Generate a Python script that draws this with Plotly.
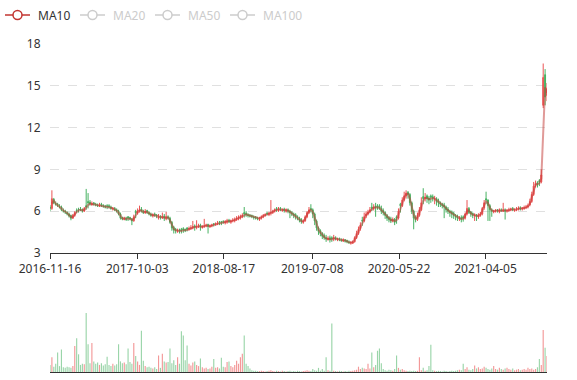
import pandas as pd
import plotly.graph_objects as go

# ---- data (one candle per week) ----
DAYS_PER_CANDLE = 5
dates = pd.date_range("2016-11-16", periods=262, freq="7D").strftime("%Y-%m-%d").tolist()

close = [
    6.2, 6.9, 6.6, 6.5, 6.4, 6.3, 6.1, 6.0, 5.95, 5.8,
    5.65, 5.5, 5.7, 5.9, 6.0, 6.1, 6.1, 6.0, 6.2, 6.3,
    6.6, 6.5, 6.55, 6.5, 6.45, 6.4, 6.45, 6.4, 6.35, 6.3,
    6.35, 6.3, 6.2, 6.2, 6.1, 6.0, 5.8, 5.5, 5.45, 5.5,
    5.4, 5.5, 5.45, 5.3, 5.6, 5.9, 6.0, 6.1, 6.0, 5.9,
    6.0, 5.9, 5.8, 5.7, 5.75, 5.7, 5.65, 5.6, 5.55, 5.6,
    5.5, 5.6, 5.5, 5.2, 4.8, 4.65, 4.6, 4.6, 4.55, 4.6,
    4.65, 4.6, 4.7, 4.75, 4.8, 4.9, 4.85, 4.9, 4.95, 4.85,
    4.9, 4.95, 5.0, 4.9, 4.95, 5.0, 5.05, 5.1, 5.15, 5.1,
    5.2, 5.2, 5.25, 5.3, 5.25, 5.3, 5.35, 5.4, 5.5, 5.55,
    5.6, 5.7, 5.8, 5.75, 5.7, 5.65, 5.6, 5.55, 5.5, 5.45,
    5.5, 5.6, 5.7, 5.75, 5.8, 5.85, 5.9, 6.0, 6.1, 6.1,
    6.15, 6.1, 6.1, 6.05, 6.1, 6.0, 5.9, 5.8, 5.7, 5.6,
    5.5, 5.35, 5.25, 5.3, 5.6, 5.9, 6.1, 6.1, 5.8, 5.3,
    4.8, 4.55, 4.4, 4.2, 4.1, 4.0, 4.05, 3.95, 4.0, 4.1,
    4.0, 4.0, 3.95, 3.9, 3.95, 3.85, 3.8, 3.75, 3.75, 3.8,
    4.1, 4.4, 4.7, 5.0, 5.3, 5.6, 5.8, 5.95, 6.1, 6.2,
    6.3, 6.25, 6.3, 6.2, 6.0, 5.9, 5.7, 5.5, 5.4, 5.3,
    5.4, 5.2, 5.5, 6.0, 6.4, 6.8, 7.1, 7.3, 7.2, 6.6,
    6.0, 5.5, 5.4, 5.7, 6.1, 6.6, 6.9, 7.0, 6.9, 6.8,
    7.0, 6.9, 6.9, 6.7, 6.6, 6.5, 6.4, 6.3, 6.1, 6.0,
    5.9, 5.8, 5.7, 5.6, 5.5, 5.5, 5.4, 5.5, 5.8, 6.2,
    5.9, 5.8, 5.7, 5.7, 5.6, 5.7, 5.8, 6.2, 6.6, 6.8,
    6.4, 6.1, 6.0, 6.0, 6.05, 6.0, 6.1, 6.05, 6.1, 6.0,
    6.05, 6.1, 6.15, 6.1, 6.1, 6.15, 6.2, 6.15, 6.2, 6.25,
    6.3, 6.4, 6.7, 7.2, 7.8, 8.0, 7.9, 8.1, 8.6, 15.6,
    14.2, 14.8,
]

open_ = [
    6.3, 6.2, 6.85, 6.55, 6.5, 6.35, 6.3, 6.05, 6.0, 5.9,
    5.8, 5.7, 5.5, 5.7, 6.05, 6.15, 6.15, 6.1, 6.0, 6.4,
    6.7, 6.65, 6.45, 6.6, 6.5, 6.45, 6.35, 6.5, 6.4, 6.35,
    6.4, 6.4, 6.3, 6.15, 6.2, 6.1, 6.0, 5.8, 5.55, 5.4,
    5.5, 5.6, 5.55, 5.45, 5.3, 6.0, 5.85, 6.0, 6.15, 6.0,
    5.9, 6.05, 5.9, 5.8, 5.65, 5.8, 5.7, 5.5, 5.65, 5.5,
    5.65, 5.45, 5.6, 5.5, 5.2, 4.85, 4.7, 4.55, 4.65, 4.7,
    4.75, 4.7, 4.8, 4.7, 4.75, 4.8, 4.95, 4.85, 4.9, 5.0,
    4.85, 4.9, 4.95, 5.05, 4.9, 4.95, 5.1, 5.05, 5.1, 5.2,
    5.25, 5.25, 5.15, 5.2, 5.35, 5.2, 5.3, 5.3, 5.4, 5.45,
    5.5, 5.6, 5.9, 5.85, 5.75, 5.7, 5.7, 5.6, 5.6, 5.5,
    5.4, 5.5, 5.6, 5.7, 5.85, 5.75, 5.85, 5.9, 6.0, 6.2,
    6.05, 6.2, 6.05, 6.15, 6.0, 6.1, 6.0, 5.9, 5.8, 5.75,
    5.6, 5.5, 5.4, 5.2, 5.3, 5.6, 5.9, 6.2, 6.1, 5.8,
    5.3, 4.8, 4.6, 4.4, 4.25, 4.1, 3.95, 4.1, 4.1, 4.0,
    4.1, 3.95, 4.05, 3.95, 3.85, 3.95, 3.9, 3.8, 3.7, 3.7,
    3.8, 4.1, 4.4, 4.75, 5.35, 5.3, 5.65, 5.8, 5.95, 6.3,
    6.2, 6.35, 6.4, 6.35, 6.2, 6.05, 5.9, 5.7, 5.55, 5.45,
    5.3, 5.45, 5.6, 5.5, 6.5, 6.4, 6.8, 7.1, 7.35, 7.2,
    6.6, 6.0, 5.55, 5.4, 5.7, 6.1, 7.05, 6.9, 7.1, 6.95,
    7.1, 7.05, 6.85, 6.9, 6.75, 6.6, 6.5, 6.45, 6.3, 6.15,
    6.0, 5.95, 5.85, 5.7, 5.65, 5.45, 5.55, 5.6, 5.5, 5.8,
    6.2, 5.95, 5.85, 5.65, 5.75, 5.6, 5.7, 5.8, 6.25, 6.9,
    6.8, 6.4, 6.1, 5.95, 6.0, 6.1, 5.95, 6.1, 6.0, 6.1,
    6.0, 6.05, 6.1, 6.2, 6.05, 6.1, 6.15, 6.25, 6.15, 6.2,
    6.25, 6.3, 6.45, 6.7, 7.2, 7.85, 8.05, 8.2, 8.1, 13.6,
    15.8, 14.3,
]

high = [
    6.45, 7.5, 6.95, 6.7, 6.6, 6.5, 6.4, 6.2, 6.1, 6.0,
    5.9, 5.75, 5.8, 6.0, 6.2, 6.25, 6.3, 6.2, 6.3, 7.6,
    7.3, 6.8, 6.7, 6.65, 6.6, 6.55, 6.6, 6.6, 6.5, 6.45,
    6.5, 6.5, 6.4, 6.3, 6.3, 6.2, 6.1, 5.9, 5.6, 5.6,
    5.6, 5.65, 5.6, 5.5, 5.75, 6.1, 6.2, 6.4, 6.3, 6.1,
    6.15, 6.1, 6.0, 5.9, 5.85, 5.9, 5.8, 5.8, 5.7, 5.9,
    5.8, 5.95, 5.7, 5.6, 5.3, 4.95, 4.8, 4.75, 4.75, 4.8,
    4.85, 4.75, 4.85, 4.9, 5.0, 5.3, 5.05, 5.35, 5.1, 5.1,
    5.0, 5.45, 5.1, 5.1, 5.05, 5.1, 5.15, 5.2, 5.3, 5.3,
    5.3, 5.35, 5.35, 5.45, 5.45, 5.4, 5.5, 5.55, 5.65, 5.7,
    5.75, 5.85, 6.3, 6.0, 5.85, 5.8, 5.75, 5.7, 5.65, 5.6,
    5.6, 5.7, 5.8, 5.85, 5.95, 5.95, 6.8, 6.1, 6.2, 6.3,
    6.3, 6.3, 6.2, 6.25, 6.2, 6.2, 6.1, 6.0, 5.9, 5.85,
    5.7, 5.6, 5.5, 5.4, 5.7, 6.0, 6.3, 6.5, 6.2, 5.9,
    5.4, 4.9, 4.7, 4.5, 4.4, 4.3, 4.2, 4.25, 4.2, 4.3,
    4.2, 4.1, 4.1, 4.05, 4.05, 4.0, 3.95, 3.9, 3.85, 3.9,
    4.2, 4.6, 4.9, 5.2, 5.6, 5.9, 6.0, 6.1, 6.3, 6.6,
    6.5, 6.6, 6.5, 6.5, 6.4, 6.2, 6.0, 5.8, 5.65, 5.6,
    5.55, 5.5, 5.7, 6.2, 6.6, 7.0, 7.4, 7.5, 7.45, 7.3,
    6.7, 6.1, 5.7, 5.9, 6.3, 7.0, 7.65, 7.3, 7.2, 7.1,
    7.2, 7.2, 7.1, 7.0, 6.9, 6.7, 6.6, 6.6, 6.4, 6.3,
    6.1, 6.05, 5.95, 5.8, 5.75, 5.65, 5.7, 5.7, 5.9, 6.8,
    6.3, 6.0, 5.9, 5.85, 5.8, 5.85, 5.95, 6.3, 6.8, 7.4,
    6.85, 6.5, 6.2, 6.1, 6.15, 6.15, 6.2, 6.2, 6.6, 6.2,
    6.15, 6.25, 6.25, 6.3, 6.2, 6.3, 6.35, 6.35, 6.3, 6.4,
    6.45, 6.55, 6.9, 7.4, 8.1, 8.2, 8.15, 8.3, 9.0, 16.6,
    16.2, 15.2,
]

low = [
    6.0, 6.1, 6.5, 6.4, 6.3, 6.2, 6.0, 5.9, 5.8, 5.7,
    5.55, 5.35, 5.45, 5.6, 5.85, 5.9, 6.0, 5.9, 5.95, 6.1,
    6.2, 6.4, 6.4, 6.4, 6.35, 6.3, 6.3, 6.3, 6.25, 6.2,
    6.15, 6.2, 6.1, 6.05, 6.0, 5.9, 5.7, 5.4, 5.35, 5.35,
    5.3, 5.3, 5.35, 5.0, 5.25, 5.5, 5.75, 5.9, 5.9, 5.8,
    5.8, 5.8, 5.7, 5.6, 5.55, 5.6, 5.5, 5.4, 5.4, 5.45,
    5.3, 5.35, 5.4, 5.1, 4.6, 4.4, 4.4, 4.45, 4.4, 4.4,
    4.45, 4.5, 4.55, 4.6, 4.65, 4.7, 4.6, 4.7, 4.8, 4.6,
    4.75, 4.8, 4.85, 4.4, 4.8, 4.85, 4.9, 4.95, 5.0, 5.0,
    5.0, 5.1, 5.05, 5.1, 5.15, 5.1, 5.2, 5.2, 5.3, 5.35,
    5.4, 5.5, 5.55, 5.6, 5.55, 5.55, 5.5, 5.4, 5.4, 5.35,
    5.3, 5.4, 5.5, 5.6, 5.7, 5.65, 5.7, 5.8, 5.9, 5.95,
    5.95, 6.0, 5.95, 5.9, 5.9, 5.85, 5.5, 5.65, 5.5, 5.4,
    5.35, 5.2, 5.1, 5.1, 5.25, 5.5, 5.8, 5.9, 5.5, 5.0,
    4.6, 4.3, 4.2, 4.0, 3.95, 3.8, 3.9, 3.75, 3.8, 3.85,
    3.9, 3.85, 3.85, 3.8, 3.8, 3.75, 3.7, 3.65, 3.6, 3.65,
    3.75, 4.0, 4.3, 4.6, 4.95, 5.2, 5.5, 5.7, 5.85, 6.0,
    6.05, 5.6, 6.1, 6.1, 5.8, 5.7, 5.45, 5.3, 5.2, 5.15,
    5.2, 5.0, 5.1, 5.4, 5.9, 6.3, 6.7, 6.9, 6.9, 6.4,
    5.8, 4.7, 5.2, 5.3, 5.6, 6.0, 6.5, 6.7, 6.6, 6.5,
    6.6, 6.7, 6.5, 6.4, 6.3, 6.3, 6.2, 5.5, 5.9, 5.8,
    5.6, 5.5, 5.45, 5.35, 5.3, 5.3, 5.2, 5.25, 5.4, 5.7,
    5.8, 5.6, 5.5, 5.3, 5.3, 5.45, 5.6, 5.7, 6.1, 6.5,
    5.3, 5.3, 5.6, 5.85, 5.9, 5.9, 5.85, 5.95, 5.95, 5.4,
    5.9, 5.95, 6.0, 6.0, 5.95, 6.0, 6.05, 6.05, 6.05, 6.1,
    6.15, 6.2, 6.35, 6.6, 7.1, 7.7, 7.7, 7.8, 8.0, 13.4,
    13.6, 13.9,
]

volume = [
    12, 25, 9, 14, 33, 10, 38, 8, 7, 9,
    8, 7, 10, 44, 57, 30, 12, 14, 13, 100,
    47, 15, 49, 18, 14, 16, 12, 15, 11, 13,
    26, 12, 10, 14, 11, 13, 47, 18, 15, 16,
    13, 40, 17, 14, 49, 27, 18, 12, 70, 19,
    10, 8, 9, 7, 6, 8, 5, 28, 7, 31,
    18, 16, 17, 40, 15, 20, 12, 25, 14, 69,
    62, 20, 45, 14, 11, 16, 18, 12, 10, 23,
    8, 6, 7, 5, 6, 9, 22, 7, 8, 6,
    24, 9, 8, 17, 18, 10, 8, 12, 19, 14,
    25, 31, 62, 14, 10, 6, 3, 2, 2, 1.5,
    1.5, 2, 1.5, 1, 1.5, 2, 3, 1.5, 1, 2,
    1.5, 1, 2, 1.5, 1, 1.5, 2, 1, 1.5, 1,
    2, 1.5, 1, 1.5, 2, 3, 2, 1.5, 5, 3,
    2, 7, 2, 5, 2, 25, 3, 2, 82, 2,
    1.5, 1, 2, 1.5, 1, 1.5, 1, 2, 1.5, 2,
    3, 4, 9, 5, 7, 6, 5, 14, 6, 33,
    8, 12, 36, 40, 15, 5, 3, 2, 4, 3,
    2, 5, 28, 7, 4, 5, 3, 2, 1.5, 2,
    1.5, 2, 1.5, 2, 25, 3, 7, 2, 3, 10,
    46, 3, 2, 1.5, 2, 1.5, 1, 2, 1.5, 1,
    1.5, 2, 1.5, 2, 3, 4, 3, 14, 5, 8,
    4, 3, 5, 11, 6, 8, 5, 6, 9, 7,
    5, 4, 6, 10, 5, 4, 7, 5, 4, 6,
    7, 5, 4, 6, 3, 4, 5, 3, 4, 5,
    4, 7, 5, 6, 4, 5, 8, 22, 12, 71,
    41, 27,
]

ma_names = ["MA10", "MA20", "MA50", "MA100"]
ma_days = [10, 20, 50, 100]
ma_colors = ["#c23531", "#2f4554", "#61a0a8", "#d48265"]
ma_selected = [True, False, False, False]
x_tick_labels = ["2016-11-16", "2017-10-03", "2018-08-17", "2019-07-08", "2020-05-22", "2021-04-05"]
y_ticks = [3, 6, 9, 12, 15, 18]

UP = "#eb5454"
DOWN = "#47b262"
FONT = "Noto Sans"

W, H = 577, 380
ML, MR, MT, MB = 50, 30, 44, 8
PW, PH = W - ML - MR, H - MT - MB


def px_x(px):
    return (px - ML) / PW


def px_y(py):
    return (H - MB - py) / PH


closes = pd.Series(close)
fig = go.Figure()

fig.add_trace(go.Candlestick(
    x=dates, open=open_, high=high, low=low, close=close,
    increasing=dict(line=dict(color=UP, width=1), fillcolor=UP),
    decreasing=dict(line=dict(color=DOWN, width=1), fillcolor=DOWN),
    whiskerwidth=0, showlegend=False, xaxis="x", yaxis="y", name="K",
))

for name, days, color, sel in zip(ma_names, ma_days, ma_colors, ma_selected):
    window = max(1, days // DAYS_PER_CANDLE)
    ma = closes.rolling(window, min_periods=window).mean().round(3)
    r, g, b = int(color[1:3], 16), int(color[3:5], 16), int(color[5:7], 16)
    fig.add_trace(go.Scatter(
        x=dates, y=ma, mode="lines", name=name,
        line=dict(color=f"rgba({r},{g},{b},0.5)", width=2),
        showlegend=False, visible=True if sel else "legendonly",
        xaxis="x", yaxis="y", hoverinfo="skip",
    ))

bar_colors = [
    "rgba(235,84,84,0.6)" if c > o else "rgba(71,178,98,0.55)"
    for o, c in zip(open_, close)
]
fig.add_trace(go.Bar(
    x=dates, y=volume, marker=dict(color=bar_colors, line=dict(width=0)),
    showlegend=False, xaxis="x2", yaxis="y2", name="Volume",
))

# ---- legend drawn like the original (line + hollow circle + label) ----
shapes, annotations = [], []
legend_left, legend_pitch, legend_y = 5, 75, 15
for i, (name, color, sel) in enumerate(zip(ma_names, ma_colors, ma_selected)):
    c = color if sel else "#cccccc"
    x0 = legend_left + i * legend_pitch
    shapes.append(dict(type="line", xref="paper", yref="paper",
                       x0=px_x(x0), x1=px_x(x0 + 25), y0=px_y(legend_y), y1=px_y(legend_y),
                       line=dict(color=c, width=1.5), layer="above"))
    rr = 4.5
    cx = x0 + 12.5
    shapes.append(dict(type="circle", xref="paper", yref="paper",
                       x0=px_x(cx - rr), x1=px_x(cx + rr),
                       y0=px_y(legend_y + rr), y1=px_y(legend_y - rr),
                       fillcolor="white", line=dict(color=c, width=1.5), layer="above"))
    annotations.append(dict(text=name, xref="paper", yref="paper",
                            x=px_x(x0 + 31), y=px_y(legend_y), xanchor="left", yanchor="middle",
                            showarrow=False, font=dict(family=FONT, size=12, color="#333" if sel else "#cccccc")))

x_range = [dates[0], dates[-1]]
fig.update_layout(
    width=W, height=H,
    margin=dict(l=ML, r=MR, t=MT, b=MB, autoexpand=False),
    paper_bgcolor="white", plot_bgcolor="white",
    font=dict(family=FONT, size=12, color="#333"),
    bargap=0.4,
    showlegend=False,
    shapes=shapes, annotations=annotations,
    xaxis=dict(
        type="date", range=x_range, domain=[0, 1], anchor="y", automargin=False,
        tickvals=x_tick_labels, ticktext=x_tick_labels,
        showline=True, linecolor="#333", linewidth=1,
        ticks="outside", ticklen=5, tickcolor="#333",
        showgrid=False, zeroline=False,
        rangeslider=dict(visible=False),
        tickfont=dict(family=FONT, size=12, color="#333"),
    ),
    yaxis=dict(
        domain=[px_y(253), px_y(44)], range=[3, 18], tickvals=y_ticks, automargin=False,
        showline=False, zeroline=False,
        showgrid=True, gridcolor="#e0e0e0", griddash="dash", gridwidth=1,
        ticks="outside", ticklen=6, tickcolor="rgba(0,0,0,0)",
        tickfont=dict(family=FONT, size=12, color="#333"),
    ),
    xaxis2=dict(
        type="date", range=x_range, domain=[0, 1], anchor="y2", matches="x", automargin=False,
        showline=True, linecolor="#333", linewidth=1,
        showticklabels=False, ticks="", showgrid=False, zeroline=False,
    ),
    yaxis2=dict(
        domain=[0.0, px_y(311)], range=[0, 103.4], automargin=False,
        showticklabels=False, showgrid=False, zeroline=False, showline=False,
    ),
)

fig.write_html(
    "out.html",
    config={"displayModeBar": False},
    post_script="document.body.style.margin='0';document.body.style.padding='0';",
)
